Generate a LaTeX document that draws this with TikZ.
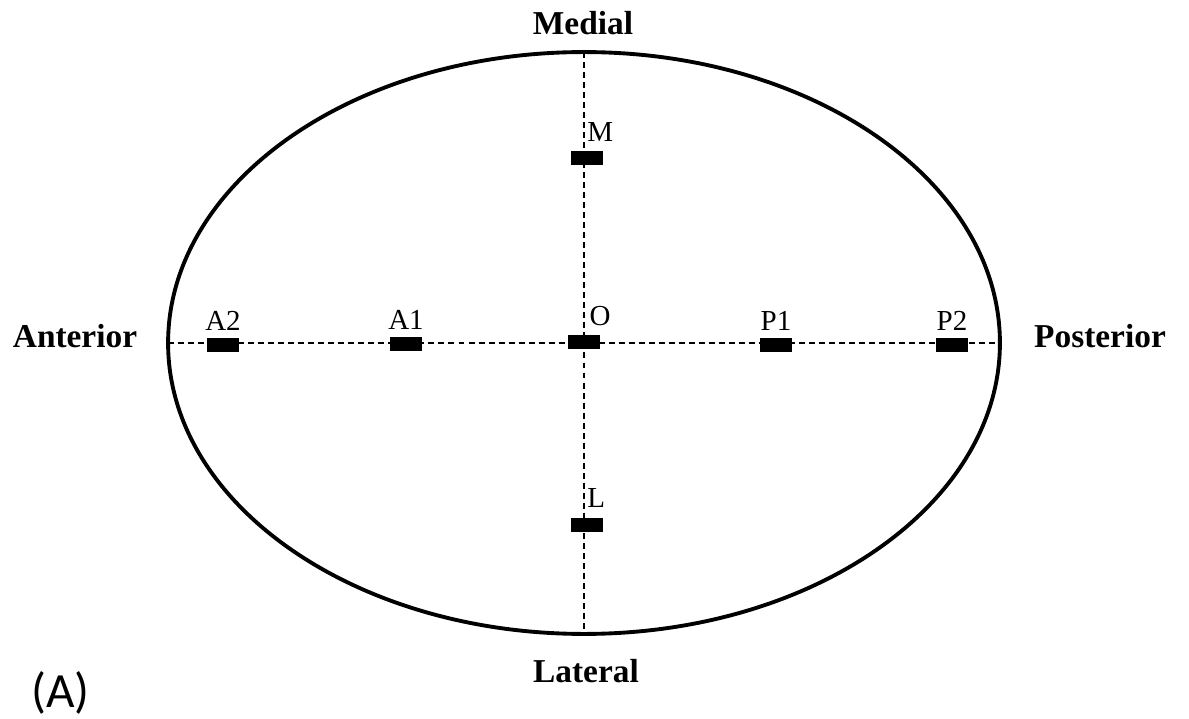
\documentclass[tikz,border=0pt]{standalone}
\usepackage{fontspec}
\setmainfont{Liberation Serif}
\newfontfamily\panelfont{Carlito}
\usetikzlibrary{shapes.geometric,positioning}

\begin{document}
\begin{tikzpicture}[
    x=0.02cm, y=-0.02cm,
    rim/.style={ellipse, draw, line width=2.2pt, inner sep=0pt, outer sep=0pt, minimum width=16.64cm, minimum height=11.64cm},
    axis/.style={dashed, dash pattern=on 3.4pt off 2.3pt, line width=0.85pt},
    marker/.style={rectangle, fill=black, inner sep=0pt, minimum width=0.64cm, minimum height=0.29cm},
    tag/.style={font=\fontsize{16.5}{18}\selectfont, inner sep=0pt},
    dir/.style={font=\fontsize{19}{22}\selectfont\bfseries, inner sep=0pt, anchor=base}
]
\useasboundingbox (0,0) rectangle (1189,719);

% Outline
\node[rim] (rim) at (584,343) {};

% Axes
\draw[axis] (rim.north) -- (rim.south);
\draw[axis] (rim.west) -- (rim.east);

% Measurement points
\node[marker] (m) at (587,158) {};
\node[marker] (o) at (584,342) {};
\node[marker] (l) at (587,525) {};
\node[marker] (a2) at (223,345) {};
\node[marker] (a1) at (406,344) {};
\node[marker] (p1) at (776,345) {};
\node[marker] (p2) at (952,345) {};

% Point labels
\node[tag, anchor=south west] (m-tag) at ([yshift=5pt]m.north) {M};
\node[tag, anchor=south west] (o-tag) at ([xshift=3pt,yshift=4.5pt]o.north) {O};
\node[tag, anchor=south west] (l-tag) at ([yshift=5.5pt]l.north) {L};
\node[tag, above=4pt of a2] (a2-tag) {A2};
\node[tag, above=4pt of a1] (a1-tag) {A1};
\node[tag, above=4pt of p1] (p1-tag) {P1};
\node[tag, above=4pt of p2] (p2-tag) {P2};

% Directions
\node[dir] (medial) at (583,35) {Medial};
\node[dir] (lateral) at (586,682) {Lateral};
\node[dir] (anterior) at (75,347) {Anterior};
\node[dir] (posterior) at (1100,347) {Posterior};

% Panel letter
\node[font=\panelfont\fontsize{28}{32}\selectfont, inner sep=0pt, anchor=base west] (panel) at (31,707) {(A)};

\end{tikzpicture}
\end{document}
